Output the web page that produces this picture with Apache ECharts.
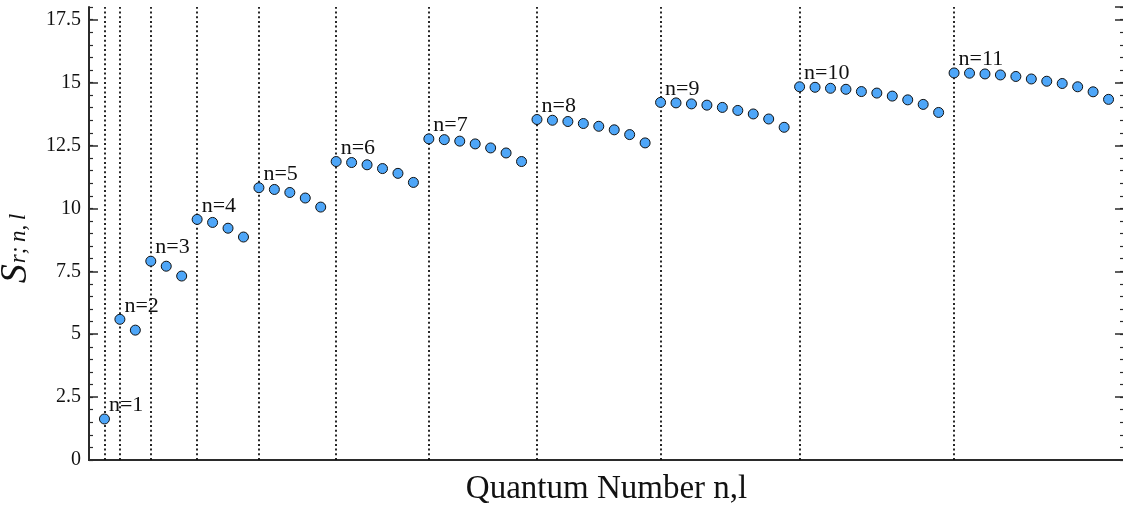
<!DOCTYPE html>
<html>
<head>
<meta charset="utf-8">
<title>S_r;n,l by quantum number</title>
<script src="https://cdn.jsdelivr.net/npm/echarts@6/dist/echarts.min.js"></script>
<style>
  html, body { margin: 0; padding: 0; background: #ffffff; }
  #chart { width: 1123px; height: 506px; }
</style>
</head>
<body>
<div id="chart"></div>
<script>
// Shell labels, one per principal quantum number n
const shellLabels = ['n=1', 'n=2', 'n=3', 'n=4', 'n=5', 'n=6', 'n=7', 'n=8', 'n=9', 'n=10', 'n=11'];

// S_{r;n,l} for l = 0 .. n-1 in each shell
const shell1 = [1.63];
const shell2 = [5.59, 5.16];
const shell3 = [7.90, 7.70, 7.31];
const shell4 = [9.56, 9.44, 9.21, 8.86];
const shell5 = [10.82, 10.75, 10.63, 10.41, 10.05];
const shell6 = [11.86, 11.82, 11.73, 11.58, 11.39, 11.03];
const shell7 = [12.76, 12.73, 12.67, 12.56, 12.40, 12.20, 11.86];
const shell8 = [13.53, 13.50, 13.45, 13.37, 13.26, 13.12, 12.93, 12.60];
const shell9 = [14.21, 14.19, 14.15, 14.10, 14.01, 13.89, 13.75, 13.55, 13.22];
const shell10 = [14.83, 14.81, 14.77, 14.73, 14.64, 14.58, 14.46, 14.31, 14.13, 13.81];
const shell11 = [15.38, 15.37, 15.34, 15.30, 15.24, 15.14, 15.05, 14.96, 14.83, 14.63, 14.33];

const shells = [shell1, shell2, shell3, shell4, shell5, shell6, shell7, shell8, shell9, shell10, shell11];

// y-axis tick labels
const yTickLabels = ['0', '2.5', '5', '7.5', '10', '12.5', '15', '17.5'];

// Flatten the shells into consecutive (index, value) points; the first
// state of every shell carries the shell label and a separator line.
const points = [];
const shellStarts = [];
let idx = 1;
shells.forEach((vals, s) => {
  shellStarts.push(idx);
  vals.forEach((v, l) => {
    const p = { value: [idx, v] };
    if (l === 0) {
      p.label = { show: true, formatter: shellLabels[s] };
    }
    points.push(p);
    idx += 1;
  });
});

const serif = '"Liberation Serif", "DejaVu Serif", serif';
const axisColor = '#2b2b2b';

const hiddenY = {
  type: 'value', min: 0, max: 18,
  axisLine: { show: false }, axisLabel: { show: false },
  splitLine: { show: false }
};

const chart = echarts.init(document.getElementById('chart'), null, { renderer: 'canvas' });
chart.setOption({
  backgroundColor: '#ffffff',
  animation: false,
  grid: { left: 89, top: 7, bottom: 46, width: 1035, containLabel: false, outerBoundsMode: 'none' },
  xAxis: [
    {
      type: 'value', min: 0, max: 67, position: 'bottom',
      axisLine: { show: true, lineStyle: { color: axisColor, width: 2 } },
      axisTick: { show: false }, axisLabel: { show: false }, splitLine: { show: false },
      name: 'Quantum Number n,l', nameLocation: 'middle', nameGap: 13,
      nameTextStyle: { fontFamily: serif, fontSize: 33, color: '#111', verticalAlign: 'top' }
    },
    {
      type: 'value', min: 0, max: 67, position: 'top',
      axisLine: { show: true, lineStyle: { color: axisColor, width: 2 } },
      axisTick: { show: false }, axisLabel: { show: false }, splitLine: { show: false }
    }
  ],
  yAxis: [
    {
      type: 'value', min: 0, max: 18, interval: 2.5, position: 'left',
      axisLine: { show: true, lineStyle: { color: axisColor, width: 2 } },
      axisTick: { show: true, inside: true, length: 9, lineStyle: { color: axisColor, width: 1.5 } },
      axisLabel: {
        show: true, margin: 8, showMaxLabel: false,
        fontFamily: serif, fontSize: 20, color: '#111',
        formatter: (v) => {
          const i = Math.round(v / 2.5);
          return Math.abs(i * 2.5 - v) < 1e-6 && yTickLabels[i] !== undefined ? yTickLabels[i] : '';
        }
      },
      splitLine: { show: false },
      name: '{s|S}{sub|r;\u2009n,\u2009l}', nameLocation: 'middle', nameGap: 36, nameRotate: 90,
      nameTextStyle: {
        color: '#111',
        padding: [0, 30, 0, 0],
        rich: {
          s: { fontFamily: serif, fontStyle: 'italic', fontSize: 38, color: '#111', padding: [0, 0, 5, 0] },
          sub: { fontFamily: serif, fontStyle: 'italic', fontSize: 23, color: '#111', padding: [0, 0, 0, 1] }
        }
      }
    },
    Object.assign({}, hiddenY, {
      interval: 0.5, position: 'left',
      axisTick: { show: true, inside: true, length: 4, lineStyle: { color: axisColor, width: 1.2 } }
    }),
    Object.assign({}, hiddenY, {
      interval: 2.5, position: 'right',
      axisTick: { show: true, inside: true, length: 9, lineStyle: { color: axisColor, width: 1.5 } }
    }),
    Object.assign({}, hiddenY, {
      interval: 0.5, position: 'right',
      axisTick: { show: true, inside: true, length: 4, lineStyle: { color: axisColor, width: 1.2 } }
    })
  ],
  series: [
    {
      // shell separators, kept beneath the points
      type: 'scatter',
      xAxisIndex: 0, yAxisIndex: 0,
      data: [],
      z: 1,
      silent: true,
      markLine: {
        silent: true, symbol: 'none', animation: false,
        label: { show: false },
        lineStyle: { type: [2, 2.7], color: '#111', width: 1.8 },
        data: shellStarts.map((x) => ({ xAxis: x }))
      }
    },
    {
      type: 'scatter',
      xAxisIndex: 0, yAxisIndex: 0,
      data: points,
      symbol: 'circle', symbolSize: 10,
      itemStyle: { color: '#4ea6f8', borderColor: '#111', borderWidth: 1, opacity: 1 },
      label: {
        show: false, position: [10, -8], align: 'left', verticalAlign: 'middle',
        fontFamily: serif, fontSize: 22, color: '#111'
      },
      emphasis: { disabled: true },
      z: 5
    }
  ]
});
</script>
</body>
</html>
